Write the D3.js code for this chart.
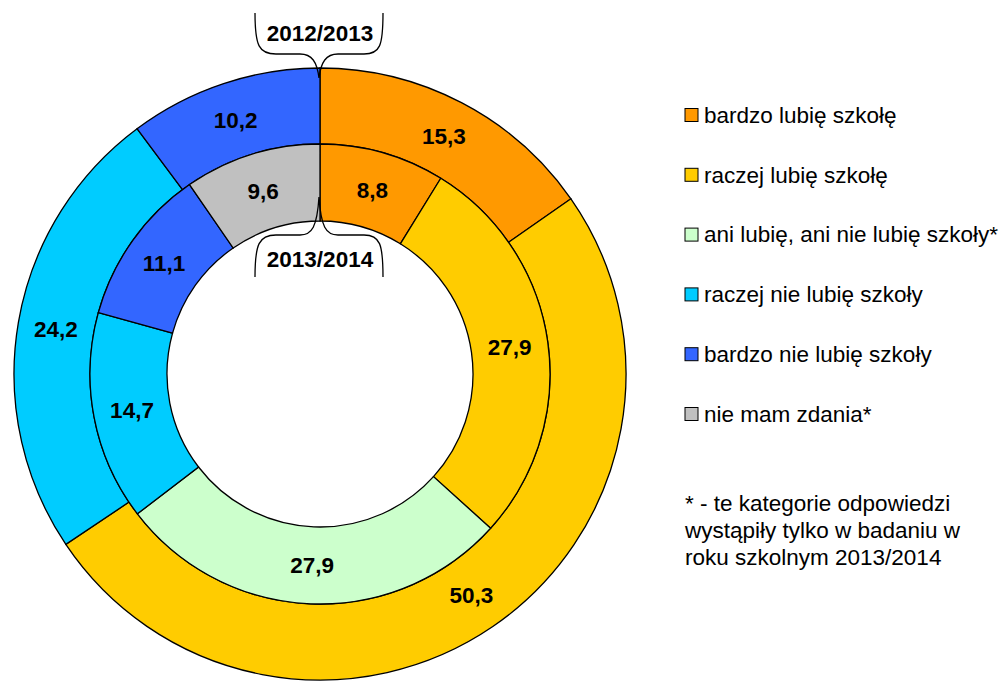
<!DOCTYPE html>
<html>
<head>
<meta charset="utf-8">
<script src="https://cdn.jsdelivr.net/npm/d3@7/dist/d3.min.js"></script>
<style>
  html, body { margin: 0; padding: 0; background: #fff; }
  svg { display: block; font-family: "Liberation Sans", Arial, sans-serif; }
</style>
</head>
<body>
<div id="chart"></div>
<script>
const categories = [
  'bardzo lubię szkołę',
  'raczej lubię szkołę',
  'ani lubię, ani nie lubię szkoły*',
  'raczej nie lubię szkoły',
  'bardzo nie lubię szkoły',
  'nie mam zdania*'
];
const colors = ['#ff9900', '#ffcc00', '#ccffcc', '#00ccff', '#3366ff', '#c0c0c0'];

// outer ring: 2012/2013 (no "ani..." and "nie mam zdania" answers)
const values2012 = [15.3, 50.3, null, 24.2, 10.2, null];
// inner ring: 2013/2014
const values2014 = [8.8, 27.9, 27.9, 14.7, 11.1, 9.6];

const yearLabels = ['2012/2013', '2013/2014'];
const footnote = [
  '* - te kategorie odpowiedzi',
  'wystąpiły tylko w badaniu w',
  'roku szkolnym 2013/2014'
];

const width = 1002, height = 681;
const cx = 320, cy = 374;
const rOuter = 306, rMid = 230, rInner = 153;

const svg = d3.select('#chart').append('svg')
  .attr('width', width)
  .attr('height', height);

const g = svg.append('g').attr('transform', `translate(${cx},${cy})`);

const pie = d3.pie().sort(null).value(d => d.value);
const fmt = v => d3.format('.1f')(v).replace('.', ',');

function ring(values, r0, r1, cls) {
  const data = values
    .map((v, i) => ({ value: v, i }))
    .filter(d => d.value != null);
  const arc = d3.arc().innerRadius(r0).outerRadius(r1);
  const arcs = pie(data);

  g.selectAll('path.' + cls)
    .data(arcs)
    .join('path')
    .attr('class', cls)
    .attr('d', arc)
    .attr('fill', d => colors[d.data.i])
    .attr('stroke', '#000')
    .attr('stroke-width', 1.3);

  g.selectAll('text.' + cls)
    .data(arcs)
    .join('text')
    .attr('class', cls)
    .attr('transform', d => `translate(${arc.centroid(d)})`)
    .attr('text-anchor', 'middle')
    .attr('dy', '0.35em')
    .attr('font-size', '22.5px')
    .attr('font-weight', 'bold')
    .attr('fill', '#000')
    .text(d => fmt(d.data.value));
}

ring(values2012, rMid, rOuter, 'outer');
ring(values2014, rInner, rMid, 'inner');

// brace callouts for the years
const braceTop = 'M255,13 C255,46 259,54 276,54 L300,54 C312,54 317,62 319,78 ' +
  'C321,62 326,54 338,54 L364,54 C380,54 383,46 383,13';
const braceBottom = 'M255,277 C255,244 259,235 276,235 L300,235 C312,235 317,227 319,197 ' +
  'C321,227 326,235 338,235 L364,235 C380,235 383,244 383,277';

svg.append('path').attr('d', braceTop)
  .attr('fill', 'none').attr('stroke', '#000').attr('stroke-width', 1.3);
svg.append('path').attr('d', braceBottom)
  .attr('fill', 'none').attr('stroke', '#000').attr('stroke-width', 1.3);

svg.append('text')
  .attr('x', 320).attr('y', 33).attr('dy', '0.35em')
  .attr('text-anchor', 'middle')
  .attr('font-size', '22.5px').attr('font-weight', 'bold')
  .text(yearLabels[0]);
svg.append('text')
  .attr('x', 320).attr('y', 259).attr('dy', '0.35em')
  .attr('text-anchor', 'middle')
  .attr('font-size', '22.5px').attr('font-weight', 'bold')
  .text(yearLabels[1]);

// legend
const ly = d3.scalePoint().domain(categories).range([115, 414]);
const legend = svg.selectAll('g.legend')
  .data(categories)
  .join('g')
  .attr('class', 'legend')
  .attr('transform', d => `translate(685,${ly(d)})`);

legend.append('rect')
  .attr('x', 0).attr('y', -6.5)
  .attr('width', 13).attr('height', 13)
  .attr('fill', (d, i) => colors[i])
  .attr('stroke', '#000')
  .attr('stroke-width', 1);

legend.append('text')
  .attr('x', 19).attr('dy', '0.35em')
  .attr('font-size', '22.5px')
  .attr('fill', '#000')
  .text(d => d);

svg.append('g')
  .selectAll('text')
  .data(footnote)
  .join('text')
  .attr('x', 685)
  .attr('y', (d, i) => 511 + i * 27)
  .attr('font-size', '22.5px')
  .attr('fill', '#000')
  .text(d => d);
</script>
</body>
</html>
